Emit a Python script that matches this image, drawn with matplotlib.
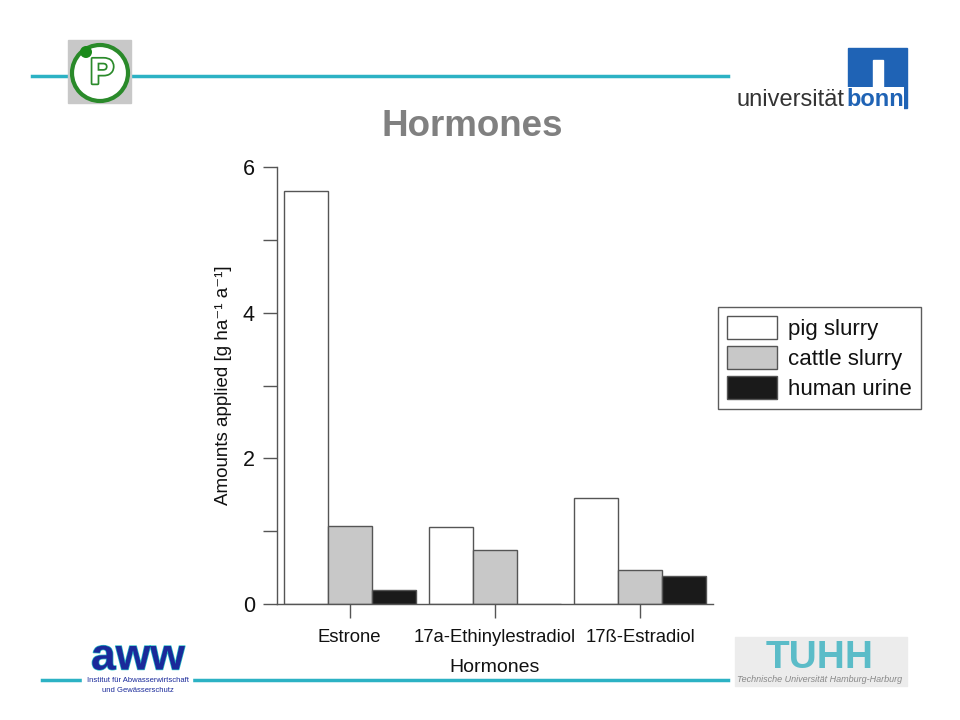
import matplotlib
matplotlib.use("Agg")
import matplotlib.pyplot as plt
from matplotlib.patches import Rectangle, Ellipse
from matplotlib.lines import Line2D
import matplotlib.patheffects as pe
import numpy as np

plt.rcParams['font.family'] = ['Liberation Sans', 'DejaVu Sans']

categories = ["Estrone", "17a-Ethinylestradiol", "17ß-Estradiol"]
series_names = ["pig slurry", "cattle slurry", "human urine"]
pig_slurry = [5.67, 1.06, 1.46]
cattle_slurry = [1.07, 0.74, 0.47]
human_urine = [0.19, 0.0, 0.38]
series_values = [pig_slurry, cattle_slurry, human_urine]
series_colors = ["#ffffff", "#c8c8c8", "#1a1a1a"]

W, H = 960, 720
fig = plt.figure(figsize=(9.6, 7.2), dpi=100)

def fx(px):
    return px / W

def fy(py):
    return 1 - py / H

ax = fig.add_axes([fx(277), fy(604), fx(713) - fx(277), fy(167) - fy(604)])
x = np.arange(len(categories))
bw = 0.302
edge = "#555555"
for i, (vals, col, name) in enumerate(zip(series_values, series_colors, series_names)):
    ax.bar(x + (i - 1) * bw, vals, width=bw, color=col, edgecolor=edge,
           linewidth=1.0, label=name)

ax.set_xlim(-0.5, 2.5)
ax.set_ylim(0, 6)
ax.set_yticks([0, 2, 4, 6])
ax.set_yticks([1, 3, 5], minor=True)
ax.set_xticks(x)
ax.set_xticklabels(categories)
for s in ["top", "right"]:
    ax.spines[s].set_visible(False)
for s in ["left", "bottom"]:
    ax.spines[s].set_color(edge)
    ax.spines[s].set_linewidth(1.0)
ax.tick_params(axis="y", which="both", length=10, width=1, color=edge,
               labelsize=15.5, pad=6, labelcolor="#111111")
ax.tick_params(axis="x", length=10, width=1, color=edge, labelsize=13.3,
               pad=8, labelcolor="#111111")
ax.set_ylabel("Amounts applied [g ha\u207b\u00b9 a\u207b\u00b9]", fontsize=13.5,
              labelpad=8, color="#111111")
ax.set_xlabel("Hormones", fontsize=14, labelpad=9, color="#111111")

leg = fig.legend(loc="upper left", bbox_to_anchor=(fx(718), fy(307)),
                 fontsize=16, frameon=True, fancybox=False, borderpad=0.4,
                 handlelength=2.25, handleheight=1.2, handletextpad=0.5,
                 labelspacing=0.28, borderaxespad=0)
leg.get_frame().set_edgecolor("#333333")
leg.get_frame().set_linewidth(1.0)
for t in leg.get_texts():
    t.set_color("#111111")

# Title
fig.text(fx(472), fy(126), "Hormones", ha="center", va="center",
         fontsize=26.5, fontweight="bold", color="#808080")

# Decorative lines
cyan = "#2cb2c4"
fig.add_artist(Line2D([fx(32), fx(728)], [fy(76), fy(76)], color=cyan, lw=2.5))
fig.add_artist(Line2D([fx(42), fx(728)], [fy(680), fy(680)], color=cyan, lw=2.5))

# Top-left logo
fig.add_artist(Rectangle((fx(68), fy(103)), fx(63), fy(40) - fy(103),
                         color="#c8c8c8", transform=fig.transFigure, zorder=3))
fig.add_artist(Ellipse((fx(100), fy(73)), fx(56), 56 / H, transform=fig.transFigure,
                       facecolor="white", edgecolor="#2a8a2a", lw=3, zorder=4))
fig.add_artist(Ellipse((fx(86), fy(52)), fx(12), 12 / H, transform=fig.transFigure,
                       facecolor="#1a8a1a", edgecolor="none", zorder=5))
fig.text(fx(102), fy(74), "P", ha="center", va="center", fontsize=26,
         fontweight="bold", color="white", zorder=6,
         path_effects=[pe.withStroke(linewidth=2.5, foreground="#2a8a2a")])

# Bonn logo
fig.add_artist(Rectangle((fx(848), fy(108)), fx(59), fy(48) - fy(108),
                         color="#1f63b5", transform=fig.transFigure, zorder=3))
fig.add_artist(Rectangle((fx(873), fy(95)), fx(10), fy(60) - fy(95),
                         color="white", transform=fig.transFigure, zorder=4))
fig.text(fx(737), fy(106), "universität", ha="left", va="baseline",
         fontsize=17, color="#333333", zorder=5,
         bbox=dict(facecolor="white", edgecolor="none", pad=0.5))
fig.text(fx(846), fy(106), "bonn", ha="left", va="baseline",
         fontsize=17, color="#1f63b5", fontweight="bold", zorder=5,
         bbox=dict(facecolor="white", edgecolor="none", pad=0.5))

# AWW logo
fig.add_artist(Rectangle((fx(82), fy(698)), fx(110), fy(634) - fy(698),
                         color="white", transform=fig.transFigure, zorder=3))
fig.text(fx(138), fy(658), "aww", ha="center", va="center", fontsize=32,
         fontweight="bold", color="#1a2a9a", zorder=4,
         path_effects=[pe.withStroke(linewidth=1, foreground="#2cc0c8")])
fig.text(fx(138), fy(681), "Institut für Abwasserwirtschaft", ha="center",
         va="center", fontsize=5.5, color="#1a2a9a", zorder=4)
fig.text(fx(138), fy(690), "und Gewässerschutz", ha="center",
         va="center", fontsize=5.5, color="#1a2a9a", zorder=4)

# TUHH logo
fig.add_artist(Rectangle((fx(735), fy(686)), fx(172), fy(637) - fy(686),
                         color="#ececec", transform=fig.transFigure, zorder=3))
fig.text(fx(820), fy(658), "TUHH", ha="center", va="center", fontsize=28,
         fontweight="bold", color="#5bbcc8", zorder=4)
fig.text(fx(820), fy(680), "Technische Universität Hamburg-Harburg",
         ha="center", va="center", fontsize=6.5, style="italic",
         color="#888888", zorder=4)

fig.savefig("out.png", dpi=100)
